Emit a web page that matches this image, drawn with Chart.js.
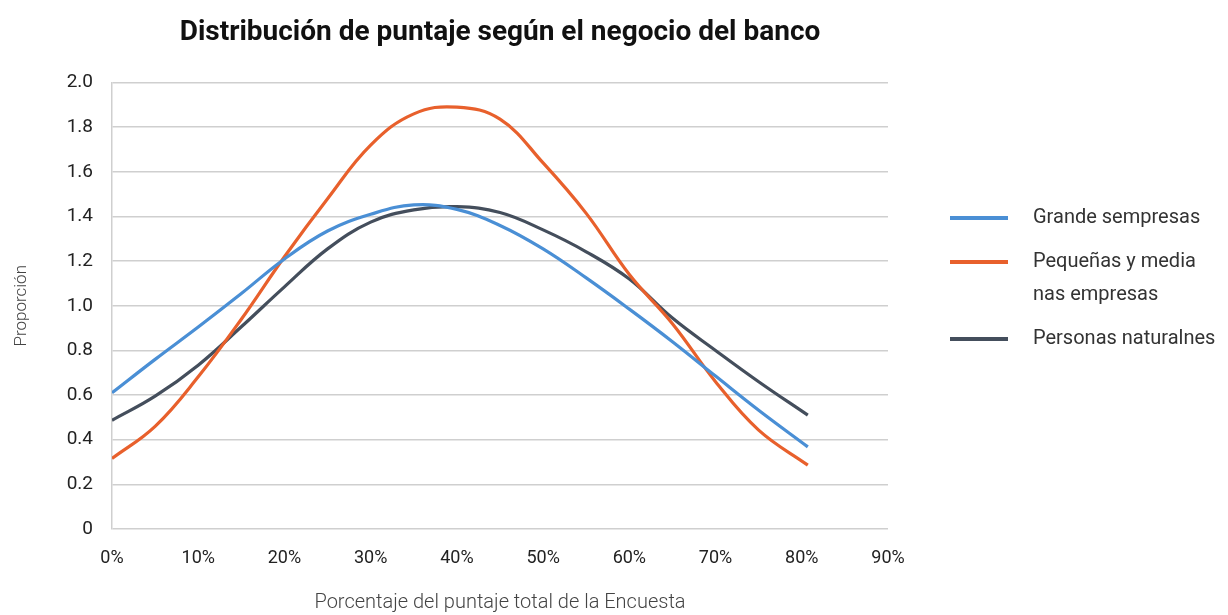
<!DOCTYPE html>
<html>
<head>
<meta charset="utf-8">
<script src="https://cdn.jsdelivr.net/npm/chart.js@4.4.1/dist/chart.umd.min.js"></script>
<style>
  html, body { margin: 0; padding: 0; background: #fff; }
  #wrap { width: 1228px; height: 615px; position: relative; }
</style>
</head>
<body>
<div id="wrap"><canvas id="chart"></canvas></div>
<script>
// x = porcentaje del puntaje total (%)
const xPct = [0, 5, 10, 15, 20, 25, 30, 35, 40, 45, 50, 55, 60, 65, 70, 75, 80.7];

const grandes  = [0.61, 0.76, 0.905, 1.055, 1.21, 1.335, 1.41, 1.452, 1.432, 1.36, 1.255, 1.125, 0.985, 0.839, 0.685, 0.532, 0.368];
const pymes    = [0.316, 0.46, 0.682, 0.94, 1.22, 1.48, 1.72, 1.86, 1.89, 1.836, 1.64, 1.414, 1.14, 0.92, 0.66, 0.443, 0.286];
const personas = [0.487, 0.595, 0.734, 0.906, 1.085, 1.255, 1.375, 1.43, 1.444, 1.418, 1.34, 1.242, 1.12, 0.945, 0.80, 0.66, 0.51];

const seriesNames = [['Grande sempresas'], ['Pequeñas y media', 'nas empresas'], ['Personas naturalnes']];
const seriesColors = ['#4a8fd5', '#e8602c', '#444e5c'];

const FONT = 'Roboto, "Noto Sans", sans-serif';

function pts(ys) {
  return xPct.map((x, i) => ({ x: x, y: ys[i] }));
}

// legend drawn on the right, next to the plot
const sideLegend = {
  id: 'sideLegend',
  afterDraw(chart) {
    const ctx = chart.ctx;
    const rows = [218, 262, 339];
    ctx.save();
    ctx.font = '20px ' + FONT;
    ctx.textBaseline = 'middle';
    ctx.textAlign = 'left';
    chart.data.datasets.forEach((ds, i) => {
      const y = rows[i];
      ctx.fillStyle = ds.borderColor;
      ctx.fillRect(950, y - 2, 58, 4);
      ctx.fillStyle = '#333';
      ds.label.forEach((line, j) => ctx.fillText(line, 1033, y + j * 33));
    });
    ctx.restore();
  }
};

new Chart(document.getElementById('chart'), {
  type: 'line',
  data: {
    datasets: [
      { label: seriesNames[0], data: pts(grandes),  borderColor: seriesColors[0], backgroundColor: seriesColors[0] },
      { label: seriesNames[1], data: pts(pymes),    borderColor: seriesColors[1], backgroundColor: seriesColors[1] },
      { label: seriesNames[2], data: pts(personas), borderColor: seriesColors[2], backgroundColor: seriesColors[2] }
    ].map(d => Object.assign(d, { borderWidth: 3.2, pointRadius: 0, tension: 0.4, fill: false }))
  },
  options: {
    responsive: true,
    maintainAspectRatio: false,
    animation: false,
    layout: { padding: { left: 10, right: 340, top: 10, bottom: 0 } },
    plugins: {
      legend: { display: false },
      tooltip: { enabled: false },
      title: {
        display: true,
        fullSize: false,
        text: 'Distribución de puntaje según el negocio del banco',
        color: '#111',
        font: { family: FONT, size: 28, weight: 'bold', lineHeight: 1.2 },
        padding: { top: 6, bottom: 33 }
      }
    },
    scales: {
      x: {
        type: 'linear',
        min: 0, max: 90,
        afterFit: s => { s.height = 86; },
        grid: { display: false, drawTicks: false },
        border: { display: false },
        ticks: { stepSize: 10, padding: 19, color: '#222', font: { family: FONT, size: 18 },
                 callback: v => v + '%' },
        title: { display: true, text: 'Porcentaje del puntaje total de la Encuesta', color: '#444',
                 font: { family: FONT, size: 20, weight: 300 }, padding: { top: 0, bottom: 0 } }
      },
      y: {
        min: 0, max: 2,
        afterFit: s => { s.width = 102; },
        grid: { color: '#cfcfcf', lineWidth: 1.5, drawTicks: false },
        border: { display: true, color: '#cfcfcf', width: 1.5 },
        ticks: { stepSize: 0.2, padding: 19, color: '#222', font: { family: FONT, size: 19 },
                 callback: v => v === 0 ? '0' : v.toFixed(1) },
        title: { display: true, text: 'Proporción', color: '#444',
                 font: { family: FONT, size: 17, weight: 300 }, padding: { top: 2, bottom: 0 } }
      }
    }
  },
  plugins: [sideLegend]
});
</script>
</body>
</html>
